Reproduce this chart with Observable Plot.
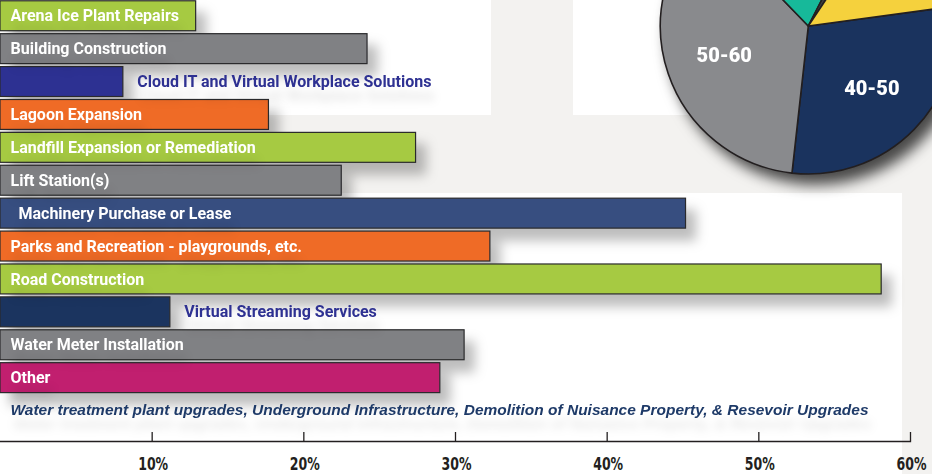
<!DOCTYPE html>
<html>
<head>
<meta charset="utf-8">
<script src="https://cdn.jsdelivr.net/npm/d3@7"></script>
<script src="https://cdn.jsdelivr.net/npm/@observablehq/plot@0.6"></script>
<style>
html, body { margin: 0; padding: 0; background: #f3f2f0; }
#wrap { position: relative; width: 932px; height: 474px; background: #f3f2f0; overflow: hidden; }
.panel { position: absolute; background: #ffffff; }
#chart { position: absolute; left: 0; top: 0; }
#chart svg { background: transparent; }
g[aria-label="bar"] { filter: drop-shadow(10px 12px 6px rgba(0,0,0,0.26)); }
g[aria-label="text"] { filter: drop-shadow(3px 14px 4px rgba(0,0,0,0.10)); }
g.pie { filter: drop-shadow(8px 10px 7px rgba(0,0,0,0.7)); }
</style>
</head>
<body>
<div id="wrap">
  <div class="panel" style="left:0;top:0;width:491px;height:115px"></div>
  <div class="panel" style="left:573px;top:0;width:220px;height:115px"></div>
  <div class="panel" style="left:0;top:193px;width:902px;height:281px"></div>
  <div id="chart"></div>
</div>
<script>
// ---- bar chart data ----
const categories = [
  "Arena Ice Plant Repairs",
  "Building Construction",
  "Cloud IT and Virtual Workplace Solutions",
  "Lagoon Expansion",
  "Landfill Expansion or Remediation",
  "Lift Station(s)",
  "Machinery Purchase or Lease",
  "Parks and Recreation - playgrounds, etc.",
  "Road Construction",
  "Virtual Streaming Services",
  "Water Meter Installation",
  "Other"
];
const values = [12.9, 24.2, 8.1, 17.7, 27.4, 22.5, 45.2, 32.3, 58.1, 11.2, 30.6, 29.0];
const barColors = ["#a6ca42", "#808184", "#2d3192", "#ef6b26", "#a6ca42", "#808184",
                   "#374e80", "#ef6b26", "#a6ca42", "#1b345f", "#808184", "#c11f6f"];
const labelInside = [true, true, false, true, true, true, true, true, true, false, true, true];
const otherNote = "Water treatment plant upgrades, Underground Infrastructure, Demolition of Nuisance Property, & Resevoir Upgrades";
const xTicks = [10, 20, 30, 40, 50, 60];

// ---- pie (age groups) data ----
const pieLabels = ["40-50", "50-60", "", "", ""];
const pieValues = [28.9, 36.0, 19.8, 1.8, 13.5];
const pieColors = ["#1a335e", "#898a8d", "#17b99a", "#3e3f42", "#f5d13d"];

const rows = categories.map((c, i) => ({cat: c, value: values[i], color: barColors[i], inside: labelInside[i]}));

// pie drawn with d3's pie layout inside a Plot render-function mark
const PIE = {cx: 808.3, cy: 26, r: 148, start: 82.3};
function pieMark() {
  const g = d3.create("svg:g").attr("class", "pie").attr("transform", `translate(${PIE.cx},${PIE.cy})`);
  const arcs = d3.pie().sort(null)
    .startAngle(PIE.start * Math.PI / 180)
    .endAngle((PIE.start + 360) * Math.PI / 180)(pieValues);
  const arc = d3.arc().innerRadius(0).outerRadius(PIE.r);
  g.selectAll("path").data(arcs).join("path")
    .attr("d", arc)
    .attr("fill", (d, i) => pieColors[i])
    .attr("stroke", "#231f20")
    .attr("stroke-width", 1.6)
    .attr("stroke-linejoin", "round");
  const labelArc = d3.arc().innerRadius(PIE.r * 0.6).outerRadius(PIE.r * 0.6);
  g.selectAll("text").data(arcs.filter((d, i) => pieLabels[i])).join("text")
    .attr("transform", d => `translate(${labelArc.centroid(d)})`)
    .attr("text-anchor", "middle")
    .attr("dy", "0.35em")
    .attr("fill", "#ffffff")
    .attr("font-family", "Roboto, sans-serif")
    .attr("font-weight", 900)
    .attr("font-size", 20)
    .text(d => pieLabels[d.index]);
  return g.node();
}

const textFont = "Roboto, 'Noto Sans', sans-serif";

const chart = Plot.plot({
  width: 932,
  height: 474,
  marginLeft: 0,
  marginRight: 22,
  marginTop: 0,
  marginBottom: 33,
  style: {background: "transparent", overflow: "hidden"},
  x: {domain: [0, 60], axis: null},
  y: {domain: categories, range: [-0.7, 394.1], paddingInner: 0.09, paddingOuter: 0.045, round: false, axis: null},
  color: {type: "identity"},
  marks: [
    pieMark,
    Plot.barX(rows, {y: "cat", x: "value", fill: "color", stroke: "#2a2a2c", strokeWidth: 1.2}),
    Plot.text(rows.filter(d => d.inside && !d.cat.startsWith("Machinery")), {
      y: "cat", x: 0, text: "cat", textAnchor: "start", dx: 10,
      fill: "#ffffff", fontWeight: 700, fontSize: 16, fontFamily: textFont
    }),
    Plot.text(rows.filter(d => d.cat.startsWith("Machinery")), {
      y: "cat", x: 0, text: "cat", textAnchor: "start", dx: 18,
      fill: "#ffffff", fontWeight: 700, fontSize: 16, fontFamily: textFont
    }),
    Plot.text(rows.filter(d => !d.inside), {
      y: "cat", x: "value", text: "cat", textAnchor: "start", dx: 14,
      fill: "#2e3192", fontWeight: 700, fontSize: 16, fontFamily: textFont
    }),
    Plot.text([otherNote], {
      y: () => "Other", x: () => 0, text: d => d, textAnchor: "start", dx: 10, dy: 32,
      fill: "#1e3a68", fontWeight: 700, fontStyle: "italic", fontSize: 15,
      fontFamily: "'Liberation Sans', Arial, sans-serif"
    }),
    Plot.frame({anchor: "bottom", stroke: "#231f20", strokeWidth: 1.3}),
    Plot.tickX(xTicks, {x: d => d, insetTop: 432, stroke: "#231f20", strokeWidth: 1.3}),
    Plot.axisX({
      ticks: xTicks, tickSize: 0, tickPadding: 16, dx: 1, label: null,
      tickFormat: d => d + "%",
      fontSize: 17, fontWeight: 700, fill: "#231f20",
      fontFamily: "'DejaVu Sans Condensed', 'DejaVu Sans', sans-serif"
    })
  ]
});
// condense the tick labels and the note to the reference's widths
d3.select(chart).selectAll('g[aria-label="x-axis tick label"] text')
  .attr("textLength", 30).attr("lengthAdjust", "spacingAndGlyphs");
d3.select(chart).selectAll('g[aria-label="text"] text')
  .filter(function () { return this.textContent === otherNote; })
  .attr("textLength", 858).attr("lengthAdjust", "spacingAndGlyphs");
document.getElementById("chart").appendChild(chart);
</script>
</body>
</html>
